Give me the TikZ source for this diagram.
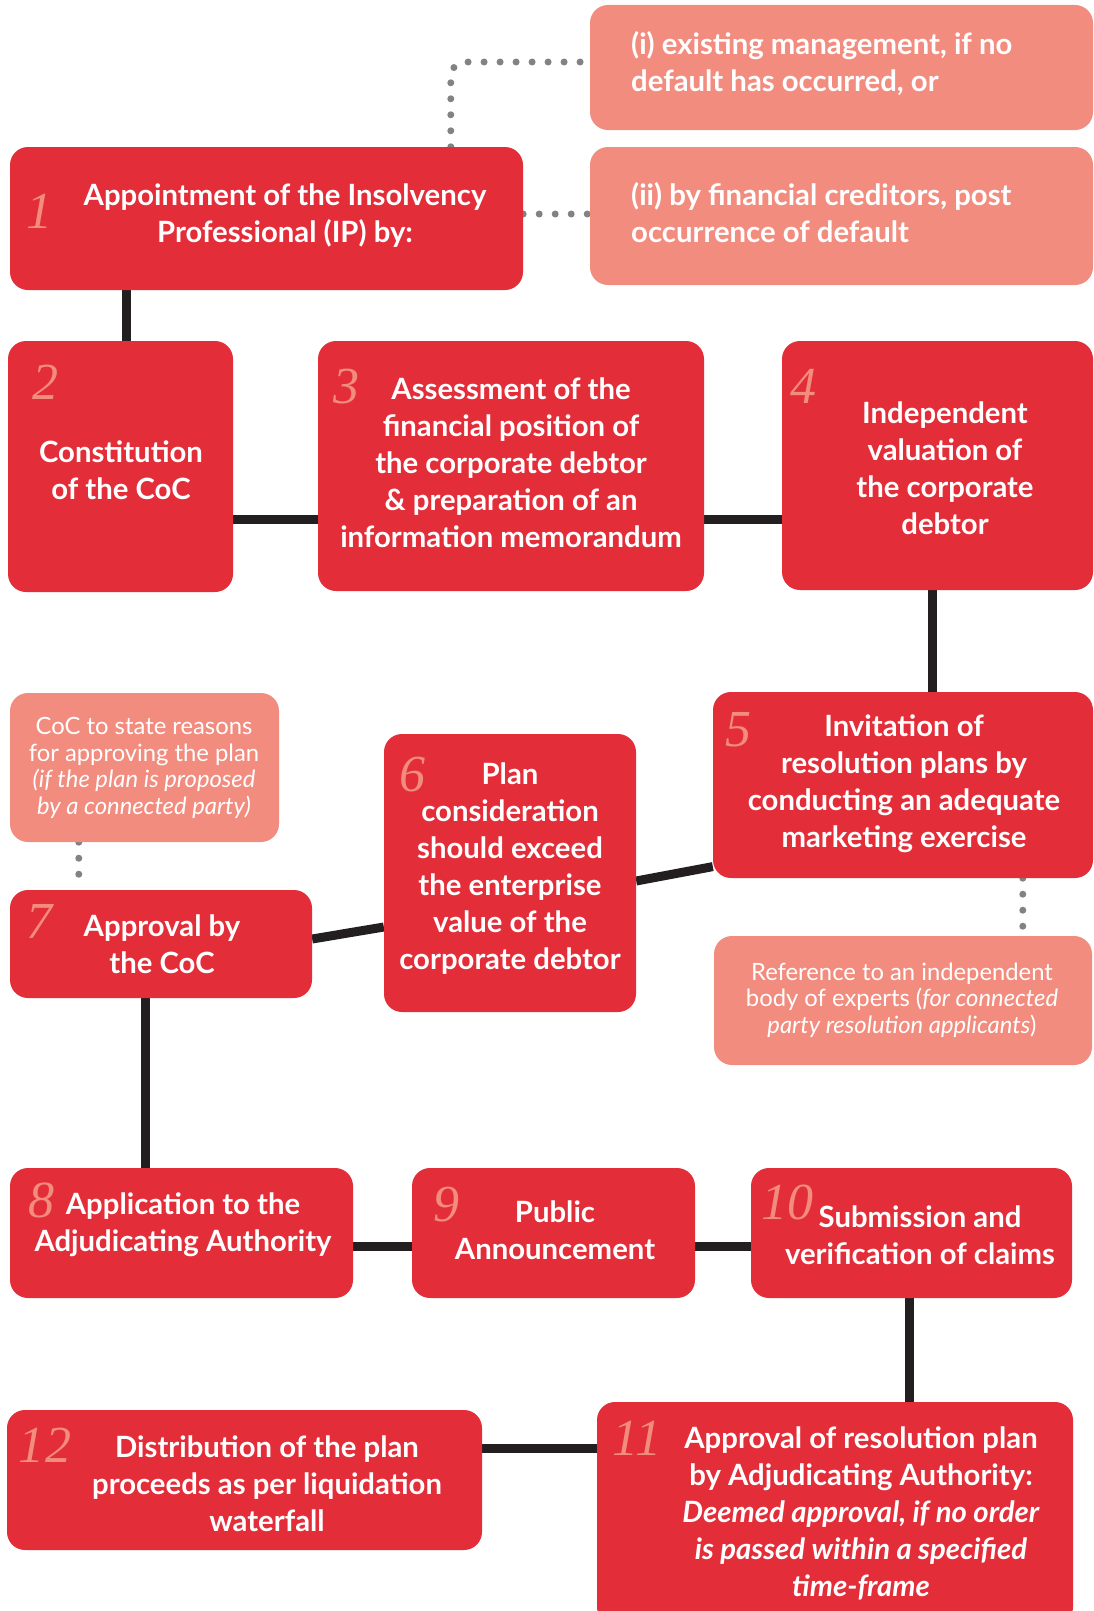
\documentclass[tikz,border=0pt]{standalone}
\usepackage{fontspec}
\setmainfont{Lato}
\newfontfamily\numfont{Liberation Serif}
\definecolor{ibRed}{RGB}{227, 45, 56}
\definecolor{ibSalmon}{RGB}{242, 140, 126}
\definecolor{ibLine}{RGB}{35, 31, 32}
\definecolor{ibDots}{RGB}{128, 130, 133}
\usetikzlibrary{calc, backgrounds}

\begin{document}
\begin{tikzpicture}[x=1pt, y=-1pt,
  stepbox/.style={rounded corners=18pt, fill=ibRed, inner sep=0pt},
  notebox/.style={rounded corners=18pt, fill=ibSalmon, inner sep=0pt},
  steptext/.style={text=white, font=\fontsize{29.3}{37}\selectfont\bfseries, align=center, inner sep=0pt},
  notetext/.style={text=white, font=\fontsize{23.8}{26.7}\selectfont, align=center, inner sep=0pt},
  num/.style={text=ibSalmon, font=\fontsize{52}{52}\selectfont\numfont\itshape, inner sep=0pt},
  link/.style={draw=ibLine, line width=9pt},
  dots/.style={draw=ibDots, line width=7pt, line cap=round, dash pattern=on 0pt off 16pt}]

  \useasboundingbox (0,0) rectangle (1094,1611);

  % red step boxes
  \foreach \n/\x/\y/\w/\h in {
    b1/266.5/218.5/513/143, b2/120.5/466.5/225/251, b3/511/466/386/250,
    b4/937.5/465.5/311/249, b5/903/785/380/186, b6/510/873/252/278,
    b7/161/944/302/108, b8/181.5/1233/343/130, b9/553.5/1233/283/130,
    b10/911.5/1233/321/130, b11/835/1513.5/476/223, b12/244.5/1480/475/140%
  } {
    \node[stepbox, minimum width=\w pt, minimum height=\h pt] (\n) at (\x,\y) {};
  }
  % salmon side notes
  \foreach \n/\x/\y/\w/\h in {
    ni/841.5/67.5/503/125, nii/841.5/216/503/138,
    ncoc/144.5/767.5/269/149, nref/903/1000.5/378/129%
  } {
    \node[notebox, minimum width=\w pt, minimum height=\h pt] (\n) at (\x,\y) {};
  }

  % step numbers
  \foreach \i/\x/\y in {
    1/39/211, 2/45/382, 3/346/387, 4/803/386, 5/738/730, 6/412/775,
    7/40/921, 8/41/1200, 9/446/1205, 10/787/1202, 11/637/1438, 12/45/1445%
  } {
    \node[num] (n\i) at (\x,\y) {\i};
  }

  % texts
  \node[steptext] (t1) at (285,216) {Appointment of the Insolvency\\Professional (IP) by:};
  \node[steptext] (t2) at (121,470) {Constitution\\of the CoC};
  \node[steptext] (t3) at (511,463) {Assessment of the\\financial position of\\the corporate debtor\\\& preparation of an\\information memorandum};
  \node[steptext] (t4) at (945,468) {Independent\\valuation of\\the corporate\\debtor};
  \node[steptext] (t5) at (904,784) {Invitation of\\resolution plans by\\conducting an adequate\\marketing exercise};
  \node[steptext] (t6) at (510,869) {Plan\\consideration\\should exceed\\the enterprise\\value of the\\corporate debtor};
  \node[steptext] (t7) at (162,944) {Approval by\\the CoC};
  \node[steptext] (t8) at (183,1225) {Application to the\\Adjudicating Authority};
  \node[steptext] (t9) at (555,1230) {Public\\Announcement};
  \node[steptext] (t10) at (920,1235) {Submission and\\verification of claims};
  \node[steptext] (t11) at (861,1513) {Approval of resolution plan\\by Adjudicating Authority:\\\textit{Deemed approval, if no order}\\\textit{is passed within a specified}\\\textit{time-frame}};
  \node[steptext] (t12) at (267,1484) {Distribution of the plan\\proceeds as per liquidation\\waterfall};
  \node[steptext, align=left, anchor=west] (ti) at (631,64) {(i) existing management, if no\\default has occurred, or};
  \node[steptext, align=left, anchor=west] (tii) at (631,213) {(ii) by financial creditors, post\\occurrence of default};
  \node[notetext] (tcoc) at (144,768) {CoC to state reasons\\for approving the plan\\\textit{(if the plan is proposed}\\\textit{by a connected party)}};
  \node[notetext] (tref) at (902,1000) {Reference to an independent\\body of experts (\textit{for connected}\\\textit{party resolution applicants})};

  \begin{scope}[on background layer]
    % solid links
    \draw[link] ([xshift=117pt]b1.south west) -- ([xshift=119pt]b2.north west);
    \draw[link] ([yshift=-52.5pt]b2.east) -- ([yshift=-53pt]b3.west);
    \draw[link] ([yshift=-53pt]b3.east) -- ([yshift=-53.5pt]b4.west);
    \draw[link] ([xshift=151pt]b4.south west) -- ([xshift=220pt]b5.north west);
    \draw[link] ([yshift=-8pt]b6.east) -- ([yshift=-81.6pt]b5.west);
    \draw[link] ([yshift=5pt]b7.east) -- ([yshift=-54pt]b6.west);
    \draw[link] ([xshift=136pt]b7.south west) -- ([xshift=136pt]b8.north west);
    \draw[link] ([yshift=-13pt]b8.east) -- ([yshift=-13pt]b9.west);
    \draw[link] ([yshift=-13pt]b9.east) -- ([yshift=-13pt]b10.west);
    \draw[link] ([xshift=159pt]b10.south west) -- ([xshift=313pt]b11.north west);
    \draw[link] ([yshift=65.5pt]b11.west) -- ([yshift=32pt]b12.east);
    % dotted links
    \draw[dots, rounded corners=14pt] ([xshift=441pt]b1.north west) |- ([yshift=5.5pt]ni.west);
    \draw[dots] ([yshift=4.5pt]b1.east) -- ([yshift=2pt]nii.west);
    \draw[dots] ([xshift=69pt]ncoc.south west) -- ([xshift=69pt]b7.north west);
    \draw[dots] ([xshift=310pt]b5.south west) -- ([xshift=309pt]nref.north west);
  \end{scope}
\end{tikzpicture}
\end{document}
